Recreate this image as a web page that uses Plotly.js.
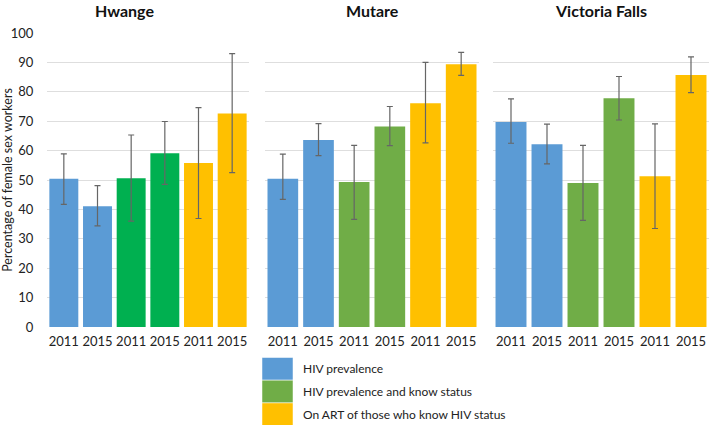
<!DOCTYPE html>
<html>
<head>
<meta charset="utf-8">
<script src="https://cdn.plot.ly/plotly-3.0.1.min.js"></script>
<style>html,body{margin:0;padding:0;background:#fff;}#chart{width:709px;height:425px;}</style>
</head>
<body>
<div id="chart"></div>
<script>
// ---- data ----
const cities = ['Hwange', 'Mutare', 'Victoria Falls'];
const measures = ['HIV prevalence', 'HIV prevalence and know status', 'On ART of those who know HIV status'];
const xLabels = ['2011', '2015', '2011', '2015', '2011', '2015'];

const hwangeValues = [50.4, 41.1, 50.6, 59.1, 55.8, 72.6];
const hwangeLow    = [41.7, 34.4, 36.0, 48.5, 36.9, 52.5];
const hwangeHigh   = [58.9, 48.1, 65.3, 69.9, 74.6, 93.0];

const mutareValues = [50.4, 63.6, 49.3, 68.2, 76.1, 89.4];
const mutareLow    = [43.4, 58.3, 36.6, 61.7, 62.6, 85.6];
const mutareHigh   = [58.8, 69.2, 61.8, 75.0, 90.0, 93.4];

const vicFallsValues = [69.7, 62.2, 49.0, 77.8, 51.3, 85.7];
const vicFallsLow    = [62.5, 55.5, 36.3, 70.4, 33.5, 79.7];
const vicFallsHigh   = [77.6, 69.0, 61.8, 85.2, 69.1, 91.9];

// ---- styling ----
const blue = '#5B9BD5', green = '#70AD47', hwGreen = '#00B050', yellow = '#FFC000';
const panelColors = [
  [blue, blue, hwGreen, hwGreen, yellow, yellow],
  [blue, blue, green, green, yellow, yellow],
  [blue, blue, green, green, yellow, yellow]
];
const legendColors = [blue, green, yellow];
const FONT = 'Lato, "Open Sans", sans-serif';

const W = 709, H = 425;
const M = {l: 47, r: 0, t: 33, b: 98};
const PW = W - M.l - M.r, PH = H - M.t - M.b;
const px2x = p => (p - M.l) / PW;
const py2y = p => (H - M.b - p) / PH;

const domains = [
  [px2x(47), px2x(249)],
  [px2x(265), px2x(479)],
  [px2x(493), px2x(709)]
];

const allValues = [hwangeValues, mutareValues, vicFallsValues];
const allLow = [hwangeLow, mutareLow, vicFallsLow];
const allHigh = [hwangeHigh, mutareHigh, vicFallsHigh];
const xPos = xLabels.map((_, i) => i);

const traces = allValues.map((vals, k) => ({
  type: 'bar',
  x: xPos,
  y: vals,
  xaxis: k === 0 ? 'x' : 'x' + (k + 1),
  yaxis: k === 0 ? 'y' : 'y' + (k + 1),
  marker: {color: panelColors[k], line: {width: 0}},
  error_y: {
    type: 'data', symmetric: false,
    array: vals.map((v, i) => allHigh[k][i] - v),
    arrayminus: vals.map((v, i) => v - allLow[k][i]),
    color: '#666666', thickness: 1.2, width: 3
  },
  showlegend: false,
  hoverinfo: 'skip'
}));

const layout = {
  width: W, height: H,
  margin: M,
  paper_bgcolor: '#fff', plot_bgcolor: '#fff',
  font: {family: FONT, size: 13, color: '#222'},
  bargap: 0.14,
  showlegend: false,
  annotations: [],
  shapes: []
};

for (let k = 0; k < 3; k++) {
  const xa = k === 0 ? 'xaxis' : 'xaxis' + (k + 1);
  const ya = k === 0 ? 'yaxis' : 'yaxis' + (k + 1);
  layout[xa] = {
    domain: domains[k],
    anchor: k === 0 ? 'y' : 'y' + (k + 1),
    range: [-0.5, 5.5],
    tickvals: xPos, ticktext: xLabels,
    showgrid: false, zeroline: false, showline: false,
    ticks: 'outside', ticklen: 2, tickcolor: 'rgba(0,0,0,0)',
    tickfont: {family: FONT, size: 13, color: '#222'},
    fixedrange: true
  };
  layout[ya] = {
    domain: [0, 1],
    anchor: k === 0 ? 'x' : 'x' + (k + 1),
    range: [0, 100], dtick: 10,
    showgrid: true, gridcolor: '#DEDEDE', gridwidth: 1,
    zeroline: false, showline: false,
    showticklabels: k === 0,
    ticks: k === 0 ? 'outside' : '', ticklen: 10, tickcolor: 'rgba(0,0,0,0)',
    tickfont: {family: FONT, size: 13, color: '#222'},
    fixedrange: true
  };
  const titleCenter = k === 0 ? px2x(124) : (domains[k][0] + domains[k][1]) / 2;
  layout.annotations.push({
    text: '<b>' + cities[k] + '</b>',
    xref: 'paper', yref: 'paper',
    x: titleCenter, y: py2y(10),
    xanchor: 'center', yanchor: 'middle',
    showarrow: false,
    font: {family: FONT, size: 16, color: '#111'}
  });
}
layout.yaxis.title = {text: 'Percentage of female sex workers', font: {family: FONT, size: 12.5, color: '#222'}, standoff: 6};

// custom legend
const boxTop = 357.5, boxH = 22.7;
measures.forEach((m, i) => {
  const y0 = boxTop + i * boxH, y1 = y0 + boxH;
  layout.shapes.push({
    type: 'rect', xref: 'paper', yref: 'paper',
    x0: px2x(262), x1: px2x(293), y0: py2y(y1), y1: py2y(y0),
    fillcolor: legendColors[i], line: {width: 0.5, color: '#ffffff'}
  });
  layout.annotations.push({
    text: m, xref: 'paper', yref: 'paper',
    x: px2x(301), y: py2y((y0 + y1) / 2),
    xanchor: 'left', yanchor: 'middle', showarrow: false,
    font: {family: FONT, size: 12, color: '#222'}
  });
});

Plotly.newPlot('chart', traces, layout, {displayModeBar: false, staticPlot: true});
</script>
</body>
</html>
